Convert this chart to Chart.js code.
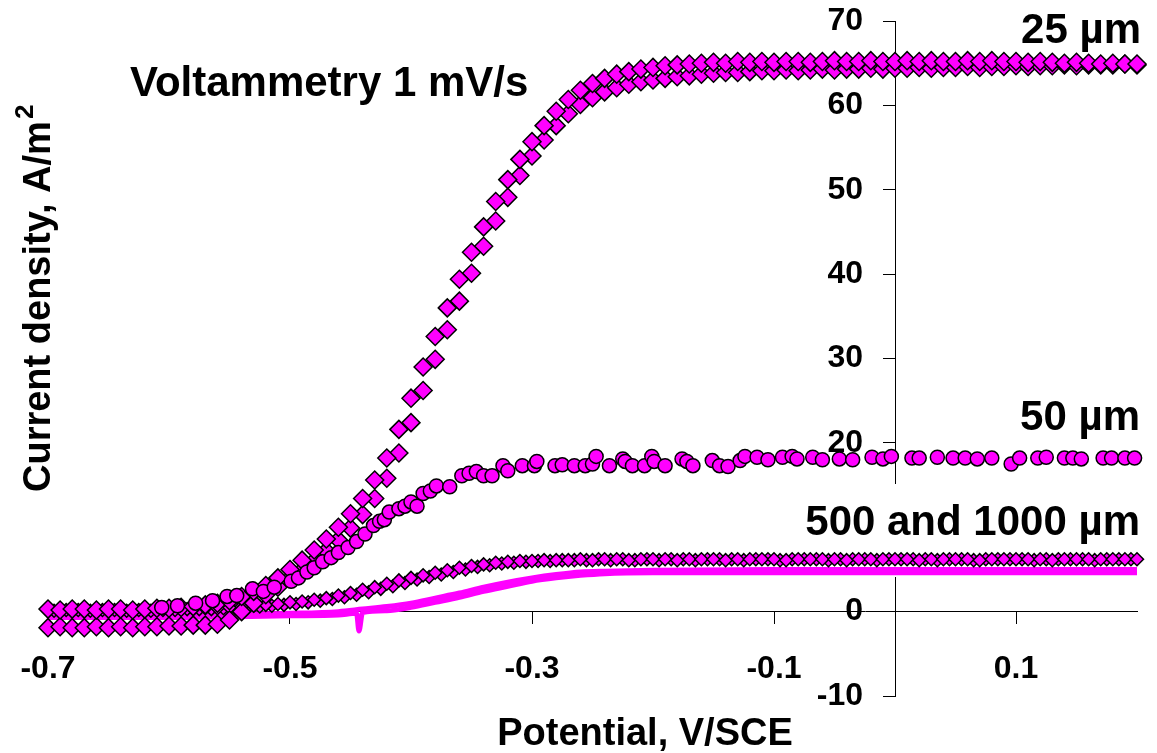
<!DOCTYPE html>
<html>
<head>
<meta charset="utf-8">
<title>Voltammetry 1 mV/s</title>
<script src="https://cdn.jsdelivr.net/npm/chart.js@4/dist/chart.umd.min.js"></script>
<style>
  html, body { margin: 0; padding: 0; background: #fff; }
  canvas { display: block; }
</style>
</head>
<body>
<canvas id="cv-chart" width="1157" height="753"></canvas>
<script>
// potential sweep (V/SCE) shared by the 25 um and 500 um electrodes
var potential = [
  -0.70, -0.69, -0.68, -0.67, -0.66, -0.65, -0.64, -0.63, -0.62, -0.61,
  -0.60, -0.59, -0.58, -0.57, -0.56, -0.55, -0.54, -0.53, -0.52, -0.51,
  -0.50, -0.49, -0.48, -0.47, -0.46, -0.45, -0.44, -0.43, -0.42, -0.41,
  -0.40, -0.39, -0.38, -0.37, -0.36, -0.35, -0.34, -0.33, -0.32, -0.31,
  -0.30, -0.29, -0.28, -0.27, -0.26, -0.25, -0.24, -0.23, -0.22, -0.21,
  -0.20, -0.19, -0.18, -0.17, -0.16, -0.15, -0.14, -0.13, -0.12, -0.11,
  -0.10, -0.09, -0.08, -0.07, -0.06, -0.05, -0.04, -0.03, -0.02, -0.01,
   0.00,  0.01,  0.02,  0.03,  0.04,  0.05,  0.06,  0.07,  0.08,  0.09,
   0.10,  0.11,  0.12,  0.13,  0.14,  0.15,  0.16,  0.17,  0.18,  0.19,
   0.20
];

// 25 um, first scan (A/m2)
var current25a = [
   0.3,  0.2,  0.3,  0.3,  0.2,  0.3,  0.3,  0.2,  0.3,  0.4,
   0.4,  0.5,  0.6,  0.8,  1.0,  1.3,  1.8,  2.4,  3.1,  4.0,
   5.0,  6.1,  7.3,  8.6, 10.0, 11.6, 13.4, 15.6, 18.2, 21.6,
  25.3, 29.0, 32.6, 36.0, 39.4, 42.6, 45.6, 48.6, 51.2, 53.6,
  55.7, 57.6, 59.3, 60.7, 61.8, 62.6, 63.2, 63.7, 64.0, 64.3,
  64.5, 64.7, 64.8, 64.9, 65.0, 65.1, 65.0, 65.2, 65.1, 65.2,
  65.1, 65.2, 65.2, 65.1, 65.2, 65.3, 65.2, 65.2, 65.3, 65.2,
  65.2, 65.3, 65.2, 65.3, 65.2, 65.2, 65.3, 65.2, 65.3, 65.2,
  65.2, 65.1, 65.2, 65.1, 65.0, 65.1, 65.0, 64.9, 65.0, 64.9,
  64.9
];

// 25 um, second scan
var current25b = [
  -1.9, -1.8, -1.9, -1.9, -1.8, -1.9, -1.8, -1.9, -1.8, -1.8,
  -1.7, -1.7, -1.6, -1.6, -1.5, -1.0,  0.0,  1.0,  2.0,  2.9,
   3.9,  4.9,  6.0,  7.2,  8.5,  9.9, 11.5, 13.4, 15.8, 18.8,
  22.4, 26.2, 29.9, 33.4, 36.8, 40.1, 43.3, 46.3, 49.1, 51.7,
  54.0, 55.9, 57.6, 59.0, 60.1, 60.9, 61.6, 62.1, 62.5, 62.8,
  63.0, 63.2, 63.4, 63.5, 63.7, 63.8, 63.9, 63.9, 64.0, 64.1,
  64.1, 64.2, 64.1, 64.2, 64.3, 64.2, 64.3, 64.3, 64.4, 64.3,
  64.4, 64.4, 64.5, 64.4, 64.5, 64.5, 64.6, 64.5, 64.6, 64.6,
  64.7, 64.6, 64.7, 64.7, 64.8, 64.7, 64.8, 64.8, 64.8, 64.9,
  64.8
];

// 500 um, first scan
var current500 = [
  0.2, 0.2, 0.1, 0.2, 0.2, 0.2, 0.1, 0.2, 0.2, 0.2,
  0.3, 0.3, 0.3, 0.4, 0.4, 0.5, 0.6, 0.7, 0.8, 0.9,
  1.1, 1.2, 1.4, 1.6, 1.9, 2.2, 2.6, 2.9, 3.3, 3.7,
  4.0, 4.3, 4.6, 4.9, 5.2, 5.4, 5.6, 5.8, 5.9, 6.0,
  6.0, 6.1, 6.1, 6.1, 6.2, 6.1, 6.2, 6.2, 6.1, 6.2,
  6.2, 6.2, 6.1, 6.2, 6.2, 6.2, 6.1, 6.2, 6.2, 6.2,
  6.2, 6.1, 6.2, 6.2, 6.2, 6.2, 6.1, 6.2, 6.2, 6.2,
  6.2, 6.2, 6.1, 6.2, 6.2, 6.2, 6.2, 6.1, 6.2, 6.2,
  6.2, 6.2, 6.2, 6.1, 6.2, 6.2, 6.2, 6.2, 6.2, 6.2,
  6.2
];

// 500 um, second scan (sampled between the first-scan points)
var potential500b = [
  -0.695, -0.685, -0.675, -0.665, -0.655, -0.645, -0.635, -0.625, -0.615, -0.605,
  -0.595, -0.585, -0.575, -0.565, -0.555, -0.545, -0.535, -0.525, -0.515, -0.505,
  -0.495, -0.485, -0.475, -0.465, -0.455, -0.445, -0.435, -0.425, -0.415, -0.405,
  -0.395, -0.385, -0.375, -0.365, -0.355, -0.345, -0.335, -0.325, -0.315, -0.305,
  -0.295, -0.285, -0.275, -0.265, -0.255, -0.245, -0.235, -0.225, -0.215, -0.205,
  -0.195, -0.185, -0.175, -0.165, -0.155, -0.145, -0.135, -0.125, -0.115, -0.105,
  -0.095, -0.085, -0.075, -0.065, -0.055, -0.045, -0.035, -0.025, -0.015, -0.005,
   0.005,  0.015,  0.025,  0.035,  0.045,  0.055,  0.065,  0.075,  0.085,  0.095,
   0.105,  0.115,  0.125,  0.135,  0.145,  0.155,  0.165,  0.175,  0.185,  0.195
];
var current500b = [
  0.1, 0.2, 0.2, 0.1, 0.2, 0.2, 0.1, 0.2, 0.1, 0.2,
  0.2, 0.3, 0.3, 0.3, 0.4, 0.4, 0.5, 0.6, 0.7, 0.8,
  0.9, 1.1, 1.3, 1.5, 1.7, 2.0, 2.3, 2.7, 3.0, 3.4,
  3.8, 4.1, 4.4, 4.7, 5.0, 5.3, 5.5, 5.7, 5.8, 5.9,
  6.0, 6.0, 6.1, 6.1, 6.1, 6.2, 6.1, 6.2, 6.1, 6.2,
  6.1, 6.2, 6.2, 6.1, 6.2, 6.2, 6.2, 6.1, 6.2, 6.2,
  6.1, 6.2, 6.2, 6.2, 6.1, 6.2, 6.2, 6.2, 6.1, 6.2,
  6.2, 6.2, 6.2, 6.1, 6.2, 6.2, 6.1, 6.2, 6.2, 6.2,
  6.2, 6.1, 6.2, 6.2, 6.2, 6.2, 6.1, 6.2, 6.2, 6.2
];

// 50 um (own sampling)
var potential50 = [
  -0.606, -0.593,
  -0.578, -0.564, -0.552, -0.544, -0.531, -0.522, -0.513, -0.499, -0.493, -0.486,
  -0.480, -0.473, -0.466, -0.460, -0.452, -0.445, -0.438, -0.431, -0.426, -0.422,
  -0.418, -0.410, -0.405, -0.400, -0.395, -0.390, -0.384, -0.379, -0.368, -0.358,
  -0.352, -0.346, -0.340, -0.333, -0.324, -0.320, -0.308, -0.298, -0.296, -0.281,
  -0.275, -0.265, -0.256, -0.250, -0.247, -0.236, -0.225, -0.223, -0.217, -0.207,
  -0.201, -0.199, -0.190, -0.176, -0.172, -0.167, -0.151, -0.145, -0.138, -0.128,
  -0.124, -0.114, -0.105, -0.093, -0.085, -0.081, -0.068, -0.060, -0.046, -0.035,
  -0.019, -0.010, -0.003,  0.014,  0.020,  0.035,  0.048,  0.058,  0.068,  0.080,
   0.096,  0.103,  0.118,  0.125,  0.140,  0.147,  0.154,  0.172,  0.179,  0.190,
   0.198
];
var current50 = [
   0.5,  0.7,
   1.0,  1.3,  1.8,  1.9,  2.7,  2.4,  2.9,  3.6,  4.0,  4.7,
   5.2,  5.9,  6.4,  7.0,  7.6,  8.3,  9.2, 10.2, 10.7, 10.9,
  11.8, 12.2, 12.5, 13.0, 12.5, 14.0, 14.3, 14.9, 14.8, 16.1,
  16.4, 16.6, 16.1, 16.1, 17.3, 16.7, 17.3, 17.3, 17.8, 17.3,
  17.4, 17.3, 17.3, 17.5, 18.4, 17.3, 18.1, 17.8, 17.3, 17.3,
  18.4, 17.8, 17.3, 18.1, 17.8, 17.3, 17.9, 17.3, 17.2, 17.9,
  18.4, 18.3, 18.0, 18.3, 18.4, 18.1, 18.3, 18.0, 18.1, 18.0,
  18.3, 18.1, 18.4, 18.2, 18.2, 18.3, 18.2, 18.2, 18.1, 18.2,
  17.5, 18.2, 18.2, 18.3, 18.2, 18.2, 18.1, 18.2, 18.2, 18.2,
  18.2
];

// 1000 um, drawn as a continuous band (two scans)
var potential1000a = [-0.70, -0.60, -0.55, -0.50, -0.46, -0.44, -0.42, -0.40, -0.38, -0.36,
  -0.34, -0.32, -0.30, -0.28, -0.26, -0.24, -0.20, -0.10, 0.00, 0.10, 0.20];
var current1000a = [-0.4, -0.4, -0.3, -0.2, 0.0, 0.3, 0.6, 1.0, 1.6, 2.2,
  2.9, 3.5, 4.0, 4.4, 4.7, 4.8, 4.9, 5.0, 5.0, 5.0, 5.0];
var potential1000b = [-0.70, -0.60, -0.55, -0.50, -0.46, -0.445, -0.443, -0.440, -0.42, -0.40,
  -0.38, -0.36, -0.34, -0.32, -0.30, -0.28, -0.26, -0.24, -0.20, -0.10, 0.00, 0.10, 0.20];
var current1000b = [-0.7, -0.7, -0.6, -0.5, -0.4, -0.2, -2.3, -0.1, 0.1, 0.5,
  1.1, 1.7, 2.4, 3.0, 3.6, 4.0, 4.3, 4.5, 4.6, 4.6, 4.6, 4.6, 4.6];

var xTicks = [-0.7, -0.5, -0.3, -0.1, 0.1];
var yTicks = [-10, 0, 10, 20, 30, 40, 50, 60, 70];

var FONT = "'Liberation Sans', Arial, Helvetica, sans-serif";
var MAGENTA = '#FF00FF';

function pairs(xs, ys) {
  return xs.map(function (x, i) { return { x: x, y: ys[i] }; });
}

// keep the edge labels from pushing the plot area inwards
function noScalePadding(scale) {
  scale.paddingTop = 0;
  scale.paddingBottom = 0;
  scale.paddingLeft = 0;
  scale.paddingRight = 0;
}

function markerSet(label, xs, ys, style, radius) {
  return {
    label: label,
    data: pairs(xs, ys),
    pointStyle: style,
    pointRadius: radius,
    backgroundColor: MAGENTA,
    borderColor: '#000',
    borderWidth: 1.5,
    clip: false
  };
}

function bandSet(label, xs, ys) {
  return {
    label: label,
    data: pairs(xs, ys),
    showLine: true,
    pointRadius: 0,
    borderColor: MAGENTA,
    borderWidth: 5,
    cubicInterpolationMode: 'monotone',
    clip: false
  };
}

// titles and curve labels, plus the white box behind the lowest label
var textPlugin = {
  id: 'cvText',
  beforeDatasetsDraw: function (chart) {
    var ctx = chart.ctx;
    ctx.save();
    ctx.fillStyle = '#fff';
    ctx.fillRect(795, 484, 358, 93);
    ctx.restore();
  },
  afterDatasetsDraw: function (chart) {
    var ctx = chart.ctx;
    ctx.save();
    ctx.fillStyle = '#000';
    ctx.textBaseline = 'alphabetic';

    ctx.font = 'bold 42px ' + FONT;
    ctx.textAlign = 'left';
    ctx.fillText('Voltammetry 1 mV/s', 130, 96);
    ctx.textAlign = 'right';
    ctx.fillText('25 µm', 1141, 43);
    ctx.fillText('50 µm', 1140, 430);
    ctx.fillText('500 and 1000 µm', 1140, 535);

    // x title
    ctx.font = 'bold 38px ' + FONT;
    ctx.textAlign = 'center';
    ctx.fillText('Potential, V/SCE', 645, 745);

    // y title, rotated, with superscript
    ctx.translate(50, 492);
    ctx.rotate(-Math.PI / 2);
    ctx.textAlign = 'left';
    ctx.font = 'bold 38px ' + FONT;
    var main = 'Current density, A/m';
    var w = ctx.measureText(main).width;
    ctx.fillText(main, 0, 0);
    ctx.font = 'bold 26px ' + FONT;
    ctx.fillText('2', w + 2, -17);
    ctx.restore();
  }
};

var cvChart = new Chart(
  document.getElementById('cv-chart').getContext('2d'),
  {
    type: 'scatter',
    data: {
      datasets: [
        markerSet('50 µm', potential50, current50, 'circle', 7),
        markerSet('25 µm', potential, current25a, 'rectRot', 9),
        markerSet('25 µm (2)', potential, current25b, 'rectRot', 9),
        markerSet('500 µm', potential, current500, 'rectRot', 6.5),
        markerSet('500 µm (2)', potential500b, current500b, 'rectRot', 6.5),
        bandSet('1000 µm', potential1000a, current1000a),
        bandSet('1000 µm (2)', potential1000b, current1000b)
      ]
    },
    options: {
      responsive: false,
      animation: false,
      layout: { padding: { left: 48, right: 20, top: 21, bottom: 57 } },
      plugins: {
        legend: { display: false },
        tooltip: { enabled: false }
      },
      scales: {
        x: {
          type: 'linear',
          min: -0.7,
          max: 0.2,
          position: { y: 0 },
          afterBuildTicks: function (scale) {
            scale.ticks = xTicks.map(function (v) { return { value: v }; });
          },
          afterFit: noScalePadding,
          grid: { drawOnChartArea: false, drawTicks: true, tickLength: 12, tickColor: '#000', tickWidth: 1 },
          border: { display: true, color: '#000', width: 1 },
          ticks: {
            padding: 26,
            color: '#000',
            autoSkip: false,
            maxRotation: 0,
            font: { family: FONT, size: 32, weight: 'bold' },
            callback: function (v) { return String(Math.round(v * 10) / 10); }
          }
        },
        y: {
          type: 'linear',
          min: -10,
          max: 70,
          position: { x: 0 },
          afterBuildTicks: function (scale) {
            scale.ticks = yTicks.map(function (v) { return { value: v }; });
          },
          afterFit: noScalePadding,
          grid: { drawOnChartArea: false, drawTicks: true, tickLength: 12, tickColor: '#000', tickWidth: 1 },
          border: { display: true, color: '#000', width: 1 },
          ticks: {
            color: '#000',
            autoSkip: false,
            font: { family: FONT, size: 32, weight: 'bold' },
            // labels sit left of the axis line, clear of the tick marks
            callback: function (v) { return v + '\u2002\u2002'; }
          }
        }
      }
    },
    plugins: [textPlugin]
  }
);
</script>
</body>
</html>
